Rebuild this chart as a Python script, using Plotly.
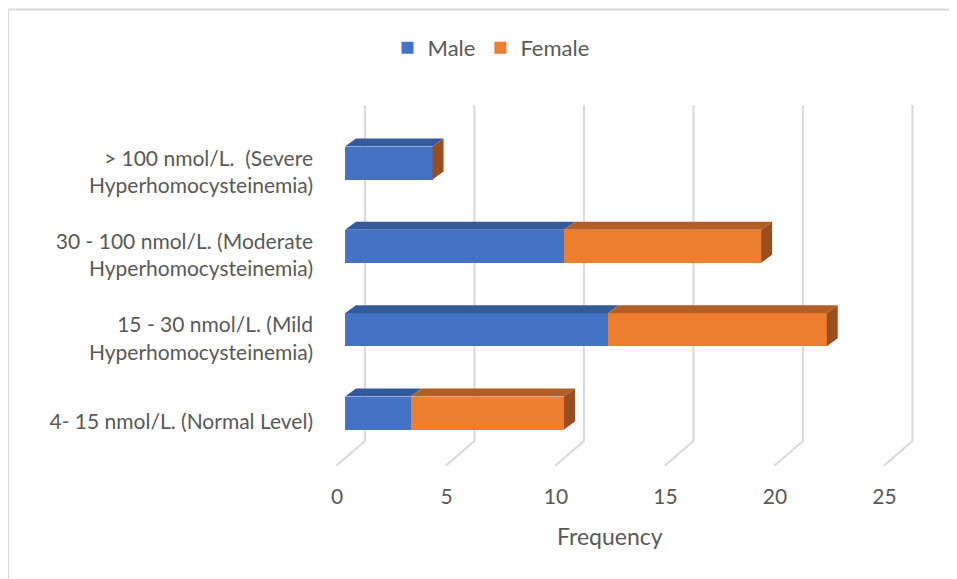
import plotly.graph_objects as go

# ---- data ----
categories = [
    "4- 15 nmol/L. (Normal Level)",
    "15 - 30 nmol/L. (Mild<br>Hyperhomocysteinemia)",
    "30 - 100 nmol/L. (Moderate<br>Hyperhomocysteinemia)",
    "> 100 nmol/L.&nbsp; (Severe<br>Hyperhomocysteinemia)",
]
male = [3, 12, 10, 4]
female = [7, 10, 9, 0]
x_ticks = [0, 5, 10, 15, 20, 25]
series_names = ["Male", "Female"]

# ---- style ----
MALE_C, FEMALE_C = "#4472C4", "#ED7D31"
MALE_TOP, FEMALE_TOP, SIDE_C = "#355A99", "#B45E23", "#9A4E1E"
GRID_C = "#D9D9D9"
TXT_C = "#595959"
FONT = "Lato"

BW = 0.396            # bar thickness (category units)
DX, DY = 0.50, 0.096  # 3D depth offset of bars (data units)
GB, GF = 0.91, -0.41  # gridline back-plane / floor-front offsets
Y_LO, Y_HI = -0.636, 3.696
Y_BACK = -0.336
X_LO, X_HI = -0.594, 26.21

W, H = 949, 571
ML, MR, MT, MB = 324, 38, 97, 113
PW, PH = W - ML - MR, H - MT - MB


def px(x):  # figure px -> paper x
    return (x - ML) / PW


def py(y):  # figure px -> paper y
    return (H - MB - y) / PH


ypos = list(range(len(categories)))

fig = go.Figure()
fig.add_trace(go.Bar(y=ypos, x=male, name=series_names[0], orientation="h",
                     width=BW, marker=dict(color=MALE_C, line=dict(width=0))))
fig.add_trace(go.Bar(y=ypos, x=female, name=series_names[1], orientation="h",
                     width=BW, marker=dict(color=FEMALE_C, line=dict(width=0))))

shapes = []
# gridlines on back wall + floor
for v in x_ticks:
    shapes.append(dict(type="path", xref="x", yref="y", layer="below",
                       path=f"M{v+GB},{Y_HI} L{v+GB},{Y_BACK} L{v+GF},{Y_LO}",
                       line=dict(color=GRID_C, width=2)))
# 3D faces
for i, (m, f) in enumerate(zip(male, female)):
    top = i + BW / 2
    bot = i - BW / 2
    for a, b, c in [(0, m, MALE_TOP), (m, m + f, FEMALE_TOP)]:
        if b > a:
            shapes.append(dict(type="path", xref="x", yref="y", layer="above",
                               path=f"M{a},{top} L{b},{top} L{b+DX},{top+DY} L{a+DX},{top+DY} Z",
                               fillcolor=c, line=dict(width=0)))
    t = m + f
    shapes.append(dict(type="path", xref="x", yref="y", layer="above",
                       path=f"M{t},{bot} L{t},{top} L{t+DX},{top+DY} L{t+DX},{bot+DY} Z",
                       fillcolor=SIDE_C, line=dict(width=0)))
# chart-area frame
shapes.append(dict(type="rect", xref="paper", yref="paper", layer="below",
                   x0=px(0), x1=px(W + 40), y0=py(H + 40), y1=py(1.5),
                   line=dict(color=GRID_C, width=2), fillcolor="rgba(0,0,0,0)"))

fig.update_layout(
    width=W, height=H,
    margin=dict(l=ML, r=MR, t=MT, b=MB),
    paper_bgcolor="white", plot_bgcolor="white",
    barmode="stack",
    font=dict(family=FONT, color=TXT_C, size=21),
    shapes=shapes,
    showlegend=True,
    legend=dict(orientation="h", xref="container", yref="container",
                x=0.509, xanchor="center", y=1 - 40 / H, yanchor="middle",
                font=dict(size=22, color=TXT_C), traceorder="normal"),
    xaxis=dict(range=[X_LO, X_HI], tickvals=x_ticks, ticktext=[str(v) for v in x_ticks],
               showgrid=False, zeroline=False, showline=False, ticks="",
               ticklabelshift=-8, ticklabelstandoff=16,
               tickfont=dict(size=21, color=TXT_C)),
    yaxis=dict(range=[Y_LO, Y_HI], tickvals=ypos, ticktext=categories,
               showgrid=False, zeroline=False, showline=False, ticks="",
               ticklabelstandoff=18, ticklabelshift=9,
               tickfont=dict(size=21, color=TXT_C)),
    annotations=[dict(text="Frequency", xref="paper", yref="paper",
                      x=px(602), y=py(528),
                      xanchor="center", yanchor="middle", showarrow=False,
                      font=dict(size=23, color=TXT_C))],
)

fig.write_html("out.html")
